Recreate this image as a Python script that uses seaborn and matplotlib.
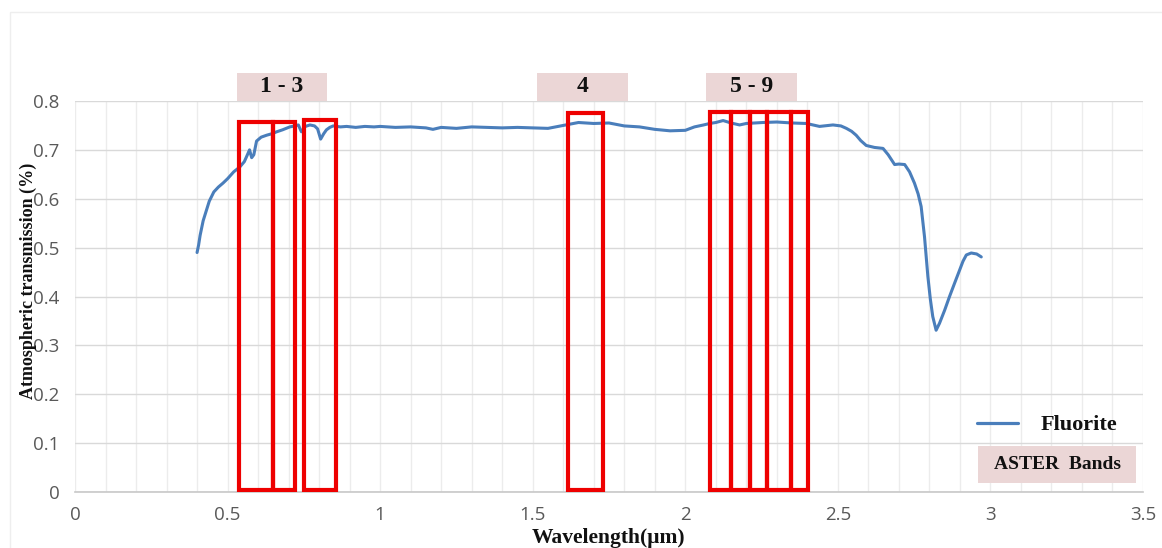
import matplotlib
matplotlib.use("Agg")
import matplotlib.pyplot as plt
import seaborn as sns
import pandas as pd
from matplotlib.patches import Rectangle
from matplotlib.lines import Line2D

# ---------------- data ----------------
wavelength = [0.400, 0.405, 0.410, 0.420, 0.430, 0.440, 0.455, 0.470, 0.485, 0.500,
              0.520, 0.540, 0.555, 0.565, 0.572, 0.579, 0.586, 0.595, 0.610, 0.628,
              0.645, 0.661, 0.680, 0.704, 0.720, 0.732, 0.742, 0.755, 0.770, 0.785,
              0.795, 0.805, 0.815, 0.824, 0.835, 0.846, 0.870, 0.890, 0.920, 0.950,
              0.980, 1.000, 1.050, 1.100, 1.150, 1.173, 1.200, 1.250, 1.300, 1.350,
              1.400, 1.450, 1.500, 1.550, 1.600, 1.650, 1.700, 1.750, 1.800, 1.850,
              1.900, 1.950, 2.000, 2.030, 2.060, 2.080, 2.100, 2.124, 2.150, 2.178,
              2.200, 2.254, 2.300, 2.350, 2.397, 2.440, 2.484, 2.510, 2.528, 2.545,
              2.560, 2.575, 2.593, 2.620, 2.648, 2.665, 2.686, 2.700, 2.719, 2.735,
              2.751, 2.763, 2.773, 2.784, 2.795, 2.803, 2.811, 2.822, 2.833, 2.850,
              2.866, 2.883, 2.899, 2.910, 2.921, 2.937, 2.955, 2.970]
transmission = [0.490, 0.505, 0.525, 0.555, 0.575, 0.595, 0.614, 0.624, 0.632, 0.641,
                0.655, 0.665, 0.676, 0.690, 0.700, 0.684, 0.690, 0.718, 0.726, 0.730,
                0.733, 0.737, 0.741, 0.747, 0.749, 0.751, 0.737, 0.748, 0.751, 0.749,
                0.743, 0.722, 0.733, 0.741, 0.746, 0.749, 0.747, 0.748, 0.746, 0.748,
                0.747, 0.748, 0.746, 0.747, 0.745, 0.742, 0.746, 0.744, 0.747, 0.746,
                0.745, 0.746, 0.745, 0.744, 0.750, 0.756, 0.754, 0.755, 0.749, 0.747,
                0.742, 0.739, 0.740, 0.747, 0.751, 0.754, 0.756, 0.760, 0.755, 0.751,
                0.754, 0.756, 0.757, 0.755, 0.754, 0.748, 0.751, 0.749, 0.744, 0.738,
                0.730, 0.719, 0.709, 0.705, 0.703, 0.690, 0.670, 0.671, 0.670, 0.655,
                0.632, 0.610, 0.584, 0.522, 0.441, 0.395, 0.359, 0.331, 0.345, 0.372,
                0.400, 0.428, 0.454, 0.472, 0.485, 0.489, 0.487, 0.481]

# ASTER band edges (µm) and drawn heights
band_lo = [0.537, 0.650, 0.750, 1.616, 2.082, 2.151, 2.211, 2.268, 2.348]
band_hi = [0.650, 0.721, 0.855, 1.730, 2.151, 2.211, 2.268, 2.348, 2.402]
band_top = [0.758, 0.758, 0.761, 0.775, 0.778, 0.778, 0.778, 0.778, 0.778]

group_labels = ["1 - 3", "4", "5 - 9"]
group_lo = [0.531, 1.513, 2.067]
group_hi = [0.825, 1.811, 2.365]

x_ticks = [0, 0.5, 1, 1.5, 2, 2.5, 3, 3.5]
x_tick_labels = ["0", "0.5", "1", "1.5", "2", "2.5", "3", "3.5"]
y_ticks = [0, 0.1, 0.2, 0.3, 0.4, 0.5, 0.6, 0.7, 0.8]
y_tick_labels = ["0", "0.1", "0.2", "0.3", "0.4", "0.5", "0.6", "0.7", "0.8"]

df = pd.DataFrame({"Wavelength": wavelength, "Transmission": transmission})

# ---------------- style ----------------
sns.set_theme(style="white")
plt.rcParams["font.family"] = ["Open Sans", "DejaVu Sans"]

W, H = 1162, 548
fig = plt.figure(figsize=(W / 100, H / 100), dpi=100)
fig.patch.set_facecolor("white")
L, R, T, B = 75, 1143, 101, 492
ax = fig.add_axes([L / W, 1 - B / H, (R - L) / W, (B - T) / H])

line_color = "#4a7ebb"
red = "#ee0000"
pink = "#ebd6d6"
serif = ["Liberation Serif", "DejaVu Serif"]

sns.lineplot(data=df, x="Wavelength", y="Transmission", ax=ax, color=line_color,
             linewidth=2.2, label="Fluorite", zorder=3)

ax.set_xlim(0, 3.5)
ax.set_ylim(0, 0.8)
ax.set_xticks(x_ticks)
ax.set_xticklabels(x_tick_labels)
ax.set_yticks(y_ticks)
ax.set_yticklabels(y_tick_labels)
ax.set_xticks([i / 10 for i in range(0, 36)], minor=True)
ax.tick_params(axis="both", which="both", length=0, labelsize=13.5, labelcolor="#595959")
ax.tick_params(axis="x", pad=10)
ax.tick_params(axis="y", pad=11)

ax.grid(True, axis="y", which="major", color="#d9d9d9", linewidth=1.0, zorder=0)
ax.grid(True, axis="x", which="minor", color="#ececec", linewidth=1.0, zorder=0)
ax.grid(True, axis="x", which="major", color="#ececec", linewidth=1.0, zorder=0)
for s in ["top", "right", "left"]:
    ax.spines[s].set_visible(False)
ax.spines["bottom"].set_color("#c8c8c8")
ax.spines["bottom"].set_linewidth(1.2)
ax.set_axisbelow(True)

# ASTER band rectangles
for lo, hi, top in zip(band_lo, band_hi, band_top):
    ax.add_patch(Rectangle((lo, 0.005), hi - lo, top - 0.005, fill=False,
                           edgecolor=red, linewidth=3.0, zorder=4))

# group label boxes above plot
for lab, lo, hi in zip(group_labels, group_lo, group_hi):
    ax.add_patch(Rectangle((lo, 0.8), hi - lo, 0.057, facecolor=pink, edgecolor="none",
                           clip_on=False, zorder=2))
    ax.text((lo + hi) / 2, 0.829, lab, ha="center", va="center", fontsize=17,
            fontweight="bold", family=serif, color="#111111", clip_on=False)

# axis labels
ax.set_xlabel("Wavelength(μm)", fontsize=15.5, fontweight="bold", family=serif, color="#111111")
ax.xaxis.set_label_coords(0.5, -0.093)
ax.set_ylabel("Atmospheric transmission (%)", fontsize=13, fontweight="bold",
              family=serif, color="#111111")
ax.yaxis.set_label_coords(-0.036, 0.54)

# legend
handles = [Line2D([0], [0], color=line_color, linewidth=2.3)]
leg = ax.legend(handles, ["Fluorite"], loc="center left", bbox_to_anchor=(0.8446, 0.171),
                frameon=False, borderpad=0, borderaxespad=0, handlelength=1.85,
                handletextpad=1.0, prop={"family": serif, "weight": "bold", "size": 16})
for t in leg.get_texts():
    t.set_color("#111111")

ax.add_patch(Rectangle((0.8455, 0.023), 0.148, 0.095, transform=ax.transAxes,
                       facecolor=pink, edgecolor="none", zorder=5))
ax.text(0.8455 + 0.074, 0.0705, "ASTER  Bands", transform=ax.transAxes, ha="center",
        va="center", fontsize=14, fontweight="bold", family=serif, color="#111111", zorder=6)

# faint outer frame
fig.add_artist(Rectangle((10 / W, -0.1), 1.2, (H - 12) / H + 0.1, transform=fig.transFigure,
                         fill=False, edgecolor="#eeeeee", linewidth=1.0))

fig.savefig("out.png", dpi=100)
